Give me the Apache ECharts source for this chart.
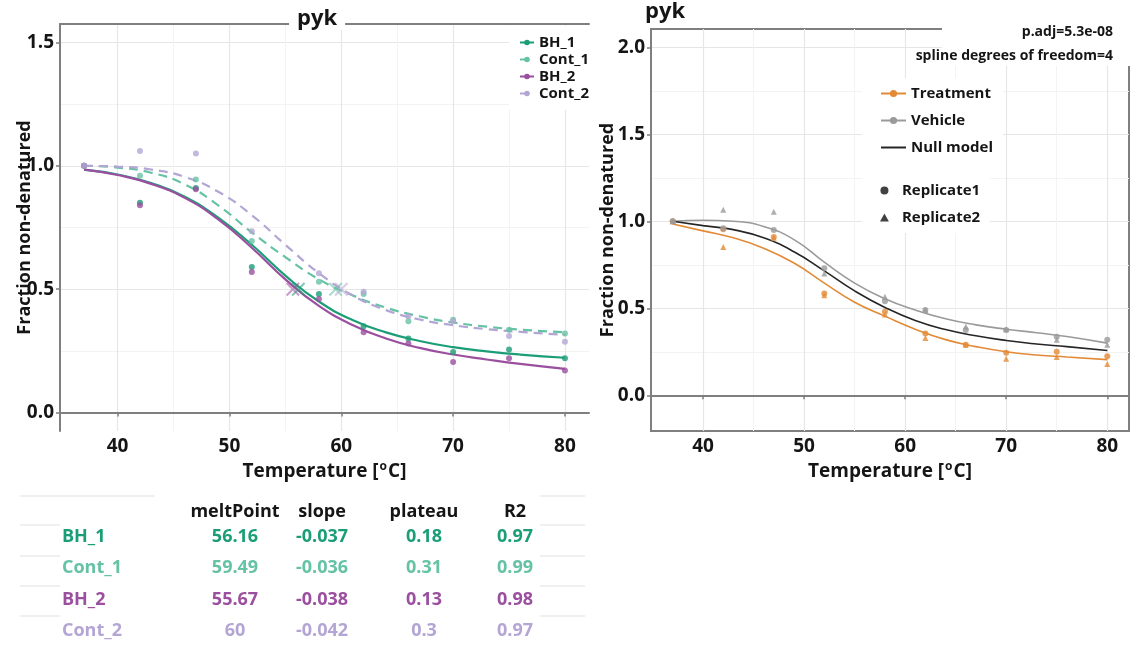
<!DOCTYPE html>
<html><head><meta charset="utf-8">
<script src="https://cdn.jsdelivr.net/npm/echarts@6/dist/echarts.min.js"></script>
<style>html,body{margin:0;padding:0;background:#fff}#c{width:1131px;height:646px}</style>
</head><body><div id="c"></div>
<script>
// ---------- data ----------
const temps = [37, 42, 47, 52, 58, 62, 66, 70, 75, 80];
const fitTemps = [37, 40, 43, 46, 49, 52, 55, 58, 61, 64, 67, 70, 73, 76, 80];

// left panel observations
const bh1Obs   = [1.0, 0.85, 0.91, 0.59, 0.48, 0.35, 0.30, 0.245, 0.255, 0.22];
const cont1Obs = [1.0, 0.96, 0.945, 0.695, 0.53, 0.48, 0.37, 0.376, 0.335, 0.32];
const bh2Obs   = [1.0, 0.84, 0.905, 0.57, 0.46, 0.325, 0.28, 0.205, 0.22, 0.17];
const cont2Obs = [1.0, 1.06, 1.05, 0.735, 0.565, 0.49, 0.39, 0.37, 0.31, 0.287];
// left panel fitted curves (read at fitTemps)
const bh1Fit   = [0.985, 0.965, 0.93, 0.875, 0.79, 0.68, 0.555, 0.45, 0.375, 0.325, 0.29, 0.265, 0.248, 0.235, 0.222];
const cont1Fit = [1.0, 0.993, 0.972, 0.925, 0.84, 0.73, 0.63, 0.54, 0.475, 0.425, 0.39, 0.365, 0.348, 0.336, 0.325];
const bh2Fit   = [0.985, 0.963, 0.927, 0.87, 0.783, 0.668, 0.54, 0.432, 0.355, 0.30, 0.262, 0.235, 0.215, 0.197, 0.177];
const cont2Fit = [1.0, 0.997, 0.985, 0.955, 0.895, 0.80, 0.68, 0.565, 0.475, 0.415, 0.377, 0.354, 0.338, 0.327, 0.315];

// table
const tableRows = ['BH_1', 'Cont_1', 'BH_2', 'Cont_2'];
const tableCols = ['meltPoint', 'slope', 'plateau', 'R2'];
const meltPoint = [56.16, 59.49, 55.67, 60];
const slope     = [-0.037, -0.036, -0.038, -0.042];
const plateau   = [0.18, 0.31, 0.13, 0.3];
const r2        = [0.97, 0.99, 0.98, 0.97];

// right panel observations
const treatRep1 = [1.0, 0.955, 0.91, 0.585, 0.48, 0.355, 0.29, 0.245, 0.25, 0.225];
const treatRep2 = [1.0, 0.853, 0.905, 0.575, 0.465, 0.33, 0.29, 0.21, 0.22, 0.18];
const vehRep1   = [1.0, 0.96, 0.95, 0.73, 0.54, 0.49, 0.375, 0.375, 0.337, 0.32];
const vehRep2   = [1.0, 1.066, 1.055, 0.70, 0.567, 0.49, 0.395, 0.38, 0.32, 0.29];
// right panel fitted curves (read at fitTemps)
const treatFit = [0.985, 0.945, 0.905, 0.845, 0.76, 0.645, 0.535, 0.455, 0.38, 0.32, 0.28, 0.25, 0.232, 0.22, 0.205];
const vehFit   = [1.0, 1.006, 1.0, 0.97, 0.895, 0.765, 0.645, 0.555, 0.49, 0.44, 0.405, 0.38, 0.36, 0.338, 0.30];
const nullFit  = [1.0, 0.975, 0.952, 0.905, 0.825, 0.715, 0.60, 0.505, 0.43, 0.378, 0.342, 0.315, 0.295, 0.28, 0.258];

const xTicks = [40, 50, 60, 70, 80];
const xMinor = [45, 55, 65, 75];
const yTicksL = [0, 0.5, 1.0, 1.5];
const yMinorL = [0.25, 0.75, 1.25];
const yTicksR = [0, 0.5, 1.0, 1.5, 2.0];
const yMinorR = [0.25, 0.75, 1.25, 1.75];

// ---------- styling ----------
const FONT = '"Open Sans", "Noto Sans", sans-serif';
const COL = {BH_1: '#1b9e77', Cont_1: '#66c2a5', BH_2: '#9b4f9f', Cont_2: '#b4a6d4',
             Treatment: '#e38a36', Vehicle: '#9a9a9a', Null: '#262626'};
const AXIS_C = '#7f7f7f', MAJ = '#e6e6e6', MIN = '#f3f3f3', TXT = '#151515';
const pairs = (xs, ys) => xs.map((x, i) => [x, ys[i]]);
const XPATH = 'path://M0,1.5L1.5,0L7,5.5L12.5,0L14,1.5L8.5,7L14,12.5L12.5,14L7,8.5L1.5,14L0,12.5L5.5,7Z';
const TRI = 'path://M5,0L10,9L0,9Z';

function majorX(grid) {
  return {type: 'value', gridIndex: grid, min: 34.85, max: 82.15,
    axisLine: {show: true, lineStyle: {color: AXIS_C, width: 2}},
    axisTick: {show: true, customValues: xTicks, length: 4, lineStyle: {color: AXIS_C, width: 1.5}},
    axisLabel: {customValues: xTicks, fontSize: 19, fontWeight: 'bold', color: TXT, fontFamily: FONT, margin: 6},
    splitLine: {show: true, lineStyle: {color: MAJ, width: 1.2}},
    name: 'Temperature [{s|o}C]', nameLocation: 'middle', nameGap: 28,
    nameTextStyle: {fontSize: 19, fontWeight: 'bold', color: TXT, fontFamily: FONT,
      rich: {s: {fontSize: 12, fontWeight: 'bold', color: TXT, fontFamily: FONT, padding: [0, 1, 9, 1]}}}};
}
function minorX(grid) {
  return {type: 'value', gridIndex: grid, min: 34.85, max: 82.15,
    axisLine: {show: false}, axisTick: {show: false, customValues: xMinor}, axisLabel: {show: false},
    splitLine: {show: true, lineStyle: {color: MIN, width: 1}}};
}
function majorY(grid, min, max, ticks, gap) {
  return {type: 'value', gridIndex: grid, min: min, max: max,
    axisLine: {show: true, lineStyle: {color: AXIS_C, width: 2}},
    axisTick: {show: true, customValues: ticks, length: 4, lineStyle: {color: AXIS_C, width: 1.5}},
    axisLabel: {customValues: ticks, formatter: v => v.toFixed(1), fontSize: 19, fontWeight: 'bold', color: TXT, fontFamily: FONT, margin: 6},
    splitLine: {show: true, lineStyle: {color: MAJ, width: 1.2}},
    name: 'Fraction non-denatured', nameLocation: 'middle', nameGap: gap, nameMoveOverlap: false,
    nameTextStyle: {fontSize: 18, fontWeight: 'bold', color: TXT, fontFamily: FONT}};
}
function minorY(grid, min, max, ticks) {
  return {type: 'value', gridIndex: grid, min: min, max: max,
    axisLine: {show: false}, axisTick: {show: false, customValues: ticks}, axisLabel: {show: false},
    splitLine: {show: true, lineStyle: {color: MIN, width: 1}}};
}

// ---------- series ----------
const leftGroups = [
  {name: 'BH_1', fit: bh1Fit, obs: bh1Obs, dashed: false},
  {name: 'Cont_1', fit: cont1Fit, obs: cont1Obs, dashed: true},
  {name: 'BH_2', fit: bh2Fit, obs: bh2Obs, dashed: false},
  {name: 'Cont_2', fit: cont2Fit, obs: cont2Obs, dashed: true}
];
const series = [];
leftGroups.forEach((g, i) => {
  const c = COL[g.name];
  series.push({type: 'line', name: g.name, xAxisIndex: 0, yAxisIndex: 0, data: pairs(fitTemps, g.fit),
    smooth: 0.5, symbol: 'circle', showSymbol: false, silent: true,
    lineStyle: {color: c, width: 2.2, type: g.dashed ? [9, 6] : 'solid'}, itemStyle: {color: c}, z: 3});
  series.push({type: 'scatter', name: g.name + ' obs', xAxisIndex: 0, yAxisIndex: 0, data: pairs(temps, g.obs),
    symbol: 'circle', symbolSize: 6, itemStyle: {color: c}, z: 4});
  series.push({type: 'scatter', name: g.name + ' Tm', xAxisIndex: 0, yAxisIndex: 0, data: [[meltPoint[i], 0.5]],
    symbol: XPATH, symbolSize: 14, itemStyle: {color: c, opacity: 0.55}, z: 5});
});
const rightCurves = [
  {name: 'Treatment', fit: treatFit, color: COL.Treatment},
  {name: 'Vehicle', fit: vehFit, color: COL.Vehicle},
  {name: 'Null model', fit: nullFit, color: COL.Null}
];
rightCurves.forEach(g => {
  series.push({type: 'line', name: g.name, xAxisIndex: 3, yAxisIndex: 3, data: pairs(fitTemps, g.fit),
    smooth: 0.5, symbol: 'circle', symbolSize: 7, showSymbol: false, silent: true,
    lineStyle: {color: g.color, width: 1.6}, itemStyle: {color: g.color}, z: 3});
});
const rightObs = [
  {name: 'Treatment r1', data: treatRep1, color: COL.Treatment, sym: 'circle'},
  {name: 'Treatment r2', data: treatRep2, color: COL.Treatment, sym: 'triangle'},
  {name: 'Vehicle r1', data: vehRep1, color: COL.Vehicle, sym: 'circle'},
  {name: 'Vehicle r2', data: vehRep2, color: COL.Vehicle, sym: 'triangle'}
];
rightObs.forEach(g => {
  series.push({type: 'scatter', name: g.name, xAxisIndex: 3, yAxisIndex: 3, data: pairs(temps, g.data),
    symbol: g.sym, symbolSize: 6, itemStyle: {color: g.color}, z: 4});
});
series.push({type: 'scatter', name: 'Replicate1', xAxisIndex: 3, yAxisIndex: 3, data: [], symbol: 'circle', itemStyle: {color: '#111'}});
series.push({type: 'scatter', name: 'Replicate2', xAxisIndex: 3, yAxisIndex: 3, data: [], symbol: 'triangle', itemStyle: {color: '#111'}});

// ---------- table (graphic text) ----------
const colX = [235, 322, 424, 515];
const headY = 512, rowY = [537, 568, 600, 631];
const graphic = [];
[496, 525, 556, 586, 616].forEach((y, i) => {
  graphic.push({type: 'line', shape: {x1: 20, y1: y, x2: i === 0 ? 155 : 60, y2: y}, style: {stroke: '#ebebeb', lineWidth: 1.5}, silent: true});
  graphic.push({type: 'line', shape: {x1: 540, y1: y, x2: 585, y2: y}, style: {stroke: '#ebebeb', lineWidth: 1.5}, silent: true});
});
tableCols.forEach((t, j) => graphic.push({type: 'text', x: colX[j], y: headY,
  style: {text: t, fill: TXT, font: 'bold 18px ' + FONT, textAlign: 'center', textVerticalAlign: 'middle'}}));
const colVals = [meltPoint, slope, plateau, r2];
tableRows.forEach((r, i) => {
  const c = COL[r];
  graphic.push({type: 'text', x: 62, y: rowY[i], style: {text: r, fill: c, font: 'bold 18px ' + FONT, textAlign: 'left', textVerticalAlign: 'middle'}});
  colVals.forEach((arr, j) => graphic.push({type: 'text', x: colX[j], y: rowY[i],
    style: {text: String(arr[i]), fill: c, font: 'bold 18px ' + FONT, textAlign: 'center', textVerticalAlign: 'middle'}}));
});
// right panel annotation
graphic.push({type: 'rect', shape: {x: 942, y: 20, width: 189, height: 46}, style: {fill: '#fff'}, z: 100, silent: true});
graphic.push({type: 'text', x: 1113, y: 32, z: 101, style: {text: 'p.adj=5.3e-08', fill: TXT, font: 'bold 14px ' + FONT, textAlign: 'right', textVerticalAlign: 'middle'}});
graphic.push({type: 'text', x: 1113, y: 56, z: 101, style: {text: 'spline degrees of freedom=4', fill: TXT, font: 'bold 14px ' + FONT, textAlign: 'right', textVerticalAlign: 'middle'}});

const legText = {fontSize: 15, fontWeight: 'bold', color: TXT, fontFamily: FONT};
const option = {
  backgroundColor: '#fff',
  animation: false,
  title: [
    {text: 'pyk', left: 289, top: 8, padding: [0, 8], backgroundColor: '#fff', textStyle: {fontSize: 22, fontWeight: 'bold', color: TXT, fontFamily: FONT}},
    {text: 'pyk', left: 645, top: 1, padding: 0, textStyle: {fontSize: 22, fontWeight: 'bold', color: TXT, fontFamily: FONT}}
  ],
  grid: [
    {left: 60, top: 24, width: 529, height: 407, outerBoundsMode: 'none'},
    {left: 651, top: 29, width: 478, height: 402, outerBoundsMode: 'none', show: true, borderColor: AXIS_C, borderWidth: 2, backgroundColor: 'transparent'}
  ],
  xAxis: [
    majorX(0), minorX(0),
    {type: 'value', gridIndex: 0, min: 34.85, max: 82.15, position: 'top', axisLine: {show: true, lineStyle: {color: AXIS_C, width: 2}},
      axisTick: {show: false}, axisLabel: {show: false}, splitLine: {show: false}},
    majorX(1), minorX(1)
  ],
  yAxis: [
    majorY(0, -0.075, 1.575, yTicksL, 26), minorY(0, -0.075, 1.575, yMinorL),
    majorY(1, -0.205, 2.105, yTicksR, 34), minorY(1, -0.205, 2.105, yMinorR)
  ],
  legend: [
    {data: ['BH_1', 'Cont_1', 'BH_2', 'Cont_2'], orient: 'vertical', left: 509, top: 26, padding: [9, 10, 9, 10],
      backgroundColor: '#fff', itemWidth: 14, itemHeight: 7, itemGap: 2, selectedMode: false, textStyle: legText},
    {data: ['Treatment', 'Vehicle', {name: 'Null model', itemStyle: {color: 'rgba(0,0,0,0)', opacity: 0}}], orient: 'vertical', left: 862, top: 78,
      padding: [8, 10, 8, 18], backgroundColor: '#fff', itemWidth: 25, itemHeight: 9, itemGap: 12, selectedMode: false, textStyle: legText},
    {data: ['Replicate1', {name: 'Replicate2', icon: TRI}], orient: 'vertical', left: 862, top: 163,
      padding: [20, 10, 8, 18], backgroundColor: '#fff', itemWidth: 25, itemHeight: 8, itemGap: 12, selectedMode: false, textStyle: legText}
  ],
  series: series,
  graphic: graphic
};
const chart = echarts.init(document.getElementById('c'), null, {renderer: 'canvas'});
chart.setOption(option);
</script>
</body></html>
